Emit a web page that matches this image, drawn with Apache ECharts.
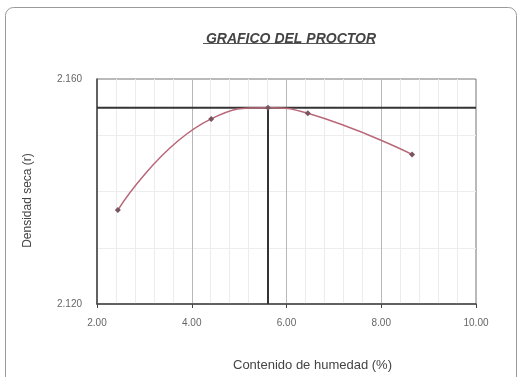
<!DOCTYPE html>
<html>
<head>
<meta charset="utf-8">
<script src="https://cdn.jsdelivr.net/npm/echarts@6/dist/echarts.min.js"></script>
<style>html,body{margin:0;padding:0;background:#fff;}#c{width:528px;height:377px;}</style>
</head>
<body>
<div id="c"></div>
<script>
const titleText = 'GRAFICO DEL PROCTOR';
const xAxisName = 'Contenido de humedad (%)';
const yAxisName = 'Densidad seca (r)';
const moisture = [2.44, 4.41, 5.61, 6.45, 8.65];
const density = [2.1367, 2.1529, 2.1549, 2.1539, 2.1466];
const optimumMoisture = 5.61;
const maxDensity = 2.1549;
const xMin = 2, xMax = 10, xStep = 2;
const yMin = 2.12, yMax = 2.16, yStep = 0.04;

const chart = echarts.init(document.getElementById('c'));
const pts = moisture.map((x, i) => [x, density[i]]);
chart.setOption({
  animation: false,
  backgroundColor: '#fff',
  title: {
    text: titleText, left: 286, top: 27, textAlign: 'center',
    textStyle: {fontFamily: 'Liberation Sans', fontSize: 14, fontStyle: 'italic', fontWeight: 'bold', color: '#444'}
  },
  graphic: [
    {type: 'rect', shape: {x: 5.5, y: 7.5, width: 511, height: 400, r: 8}, style: {fill: 'none', stroke: '#9a9a9a', lineWidth: 1}, z: -1},
    {type: 'line', shape: {x1: 203, y1: 43.5, x2: 375, y2: 43.5}, style: {stroke: '#555', lineWidth: 1}}
  ],
  grid: {left: 97, right: 52, top: 79, bottom: 63, show: true, borderColor: '#777', borderWidth: 1},
  xAxis: {
    type: 'value', min: xMin, max: xMax, interval: xStep,
    name: xAxisName, nameLocation: 'middle', nameGap: 55,
    nameTextStyle: {fontFamily: 'Liberation Sans', fontSize: 13, color: '#444', padding: [0, 0, 0, 52]},
    axisLine: {lineStyle: {color: '#444', width: 1.5}},
    axisTick: {show: true, length: 4, lineStyle: {color: '#444'}},
    axisLabel: {fontFamily: 'Liberation Sans', fontSize: 10, color: '#666', margin: 14, formatter: v => v.toFixed(2)},
    splitLine: {show: true, lineStyle: {color: '#b8b8b8', width: 1}},
    minorTick: {show: false, splitNumber: 5},
    minorSplitLine: {show: true, lineStyle: {color: '#ececec', width: 1}}
  },
  yAxis: {
    type: 'value', min: yMin, max: yMax, interval: yStep,
    name: yAxisName, nameLocation: 'middle', nameGap: 63, nameRotate: 90,
    nameTextStyle: {fontFamily: 'Liberation Sans', fontSize: 12, color: '#444', padding: [0, 18, 0, 0]},
    axisLine: {show: true, lineStyle: {color: '#444', width: 1.5}},
    axisTick: {show: false},
    axisLabel: {fontFamily: 'Liberation Sans', fontSize: 10, color: '#666', margin: 15, formatter: v => v.toFixed(3)},
    splitLine: {show: false},
    minorTick: {show: false, splitNumber: 4},
    minorSplitLine: {show: true, lineStyle: {color: '#ededed', width: 1}}
  },
  series: [
    {
      type: 'line', data: pts, smooth: 0.5,
      lineStyle: {color: '#b86878', width: 1.5},
      symbol: 'diamond', symbolSize: 6,
      itemStyle: {color: '#7a5560'}, z: 3
    },
    {
      type: 'line', data: [[xMin, maxDensity], [xMax, maxDensity]],
      symbol: 'none', lineStyle: {color: '#333', width: 2}, z: 2
    },
    {
      type: 'line', data: [[optimumMoisture, yMin], [optimumMoisture, maxDensity]],
      symbol: 'none', lineStyle: {color: '#333', width: 2}, z: 2
    }
  ]
});
</script>
</body>
</html>
